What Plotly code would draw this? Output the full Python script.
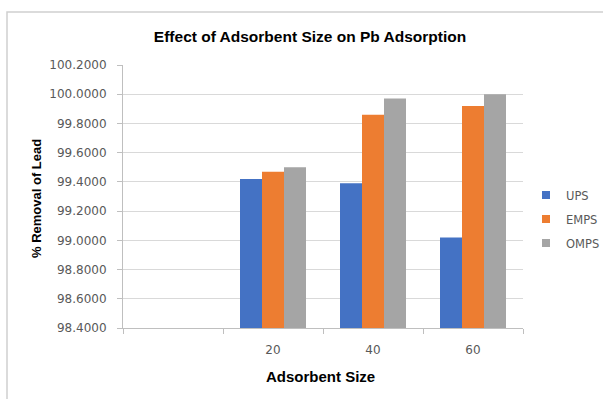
import plotly.graph_objects as go

categories = [" ", "20", "40", "60"]
ups = [None, 99.42, 99.39, 99.02]
emps = [None, 99.47, 99.86, 99.92]
omps = [None, 99.50, 99.97, 100.00]
series_names = ["UPS", "EMPS", "OMPS"]
colors = ["#4472C4", "#ED7D31", "#A5A5A5"]
y_ticks = [98.4, 98.6, 98.8, 99.0, 99.2, 99.4, 99.6, 99.8, 100.0, 100.2]

W, H = 603, 399
ml, mr, mt, mb = 123, 80, 65, 71
pw, ph = W - ml - mr, H - mt - mb

fig = go.Figure()
for name, vals, col in zip(series_names, [ups, emps, omps], colors):
    fig.add_trace(go.Bar(x=categories, y=vals, name=name, marker_color=col,
                         marker_line_width=0, showlegend=False))
# legend entries with small square swatches
for name, col in zip(series_names, colors):
    fig.add_trace(go.Scatter(x=[None], y=[None], mode="markers", name=name,
                             legendgroup=name,
                             marker=dict(symbol="square", size=8, color=col)))

TICKFONT = "DejaVu Sans, Verdana, sans-serif"
BOLDFONT = "Liberation Sans, Arial, sans-serif"

fig.update_layout(
    width=W, height=H,
    margin=dict(l=ml, r=mr, t=mt, b=mb, pad=0, autoexpand=False),
    paper_bgcolor="white", plot_bgcolor="white",
    barmode="group", bargap=0.34, bargroupgap=0,
    font=dict(family=TICKFONT, size=11, color="#595959"),
    title=dict(text="<b>Effect of Adsorbent Size on Pb Adsorption</b>",
               x=(310 - ml) / pw, xref="paper", xanchor="center",
               y=1 - 37 / H, yanchor="middle",
               font=dict(family=BOLDFONT, size=15.5, color="#000000")),
    legend=dict(x=1 + 3 / pw, xanchor="left", y=(H - mb - 219) / ph, yanchor="middle",
                font=dict(family=TICKFONT, size=11.5, color="#595959"), itemwidth=30,
                tracegroupgap=5, bgcolor="rgba(0,0,0,0)"),
    showlegend=True,
    annotations=[
        dict(text="<b>Adsorbent Size</b>", xref="paper", yref="paper",
             x=(320 - ml) / pw, y=(H - mb - 376) / ph, xanchor="center", yanchor="middle",
             showarrow=False, font=dict(family=BOLDFONT, size=15, color="#000000")),
        dict(text="<b>% Removal of Lead</b>", xref="paper", yref="paper",
             x=(36 - ml) / pw, y=(H - mb - 199) / ph, xanchor="center", yanchor="middle",
             textangle=-90, showarrow=False,
             font=dict(family=BOLDFONT, size=13, color="#000000")),
    ],
)
fig.update_xaxes(
    type="category", categoryorder="array", categoryarray=categories,
    tickson="boundaries", ticks="outside", ticklen=5, tickcolor="#BFBFBF",
    showline=True, linecolor="#BFBFBF", linewidth=1,
    showgrid=False, ticklabelstandoff=11,
    tickfont=dict(family=TICKFONT, size=12, color="#595959"),
)
fig.update_yaxes(
    range=[98.4, 100.2], tickvals=y_ticks,
    ticktext=[f"{v:.4f}" for v in y_ticks],
    ticks="outside", ticklen=5, tickcolor="#BFBFBF",
    showline=True, linecolor="#BFBFBF", linewidth=1,
    showgrid=True, gridcolor="#D9D9D9", gridwidth=1,
    zeroline=False, ticklabelstandoff=8,
    tickfont=dict(family=TICKFONT, size=12, color="#595959"),
)

# outer chart border (Excel chart area)
x0 = (7 - ml) / pw
x1 = (620 - ml) / pw
y1 = (H - mb - 12) / ph
y0 = (H - mb - 420) / ph
fig.add_shape(type="rect", xref="paper", yref="paper", x0=x0, x1=x1, y0=y0, y1=y1,
              line=dict(color="#D0D0D0", width=1.5), fillcolor="rgba(0,0,0,0)", layer="below")

fig.write_html("out.html", config={"displayModeBar": False},
               post_script="document.body.style.margin='0';document.body.style.overflow='hidden';")
